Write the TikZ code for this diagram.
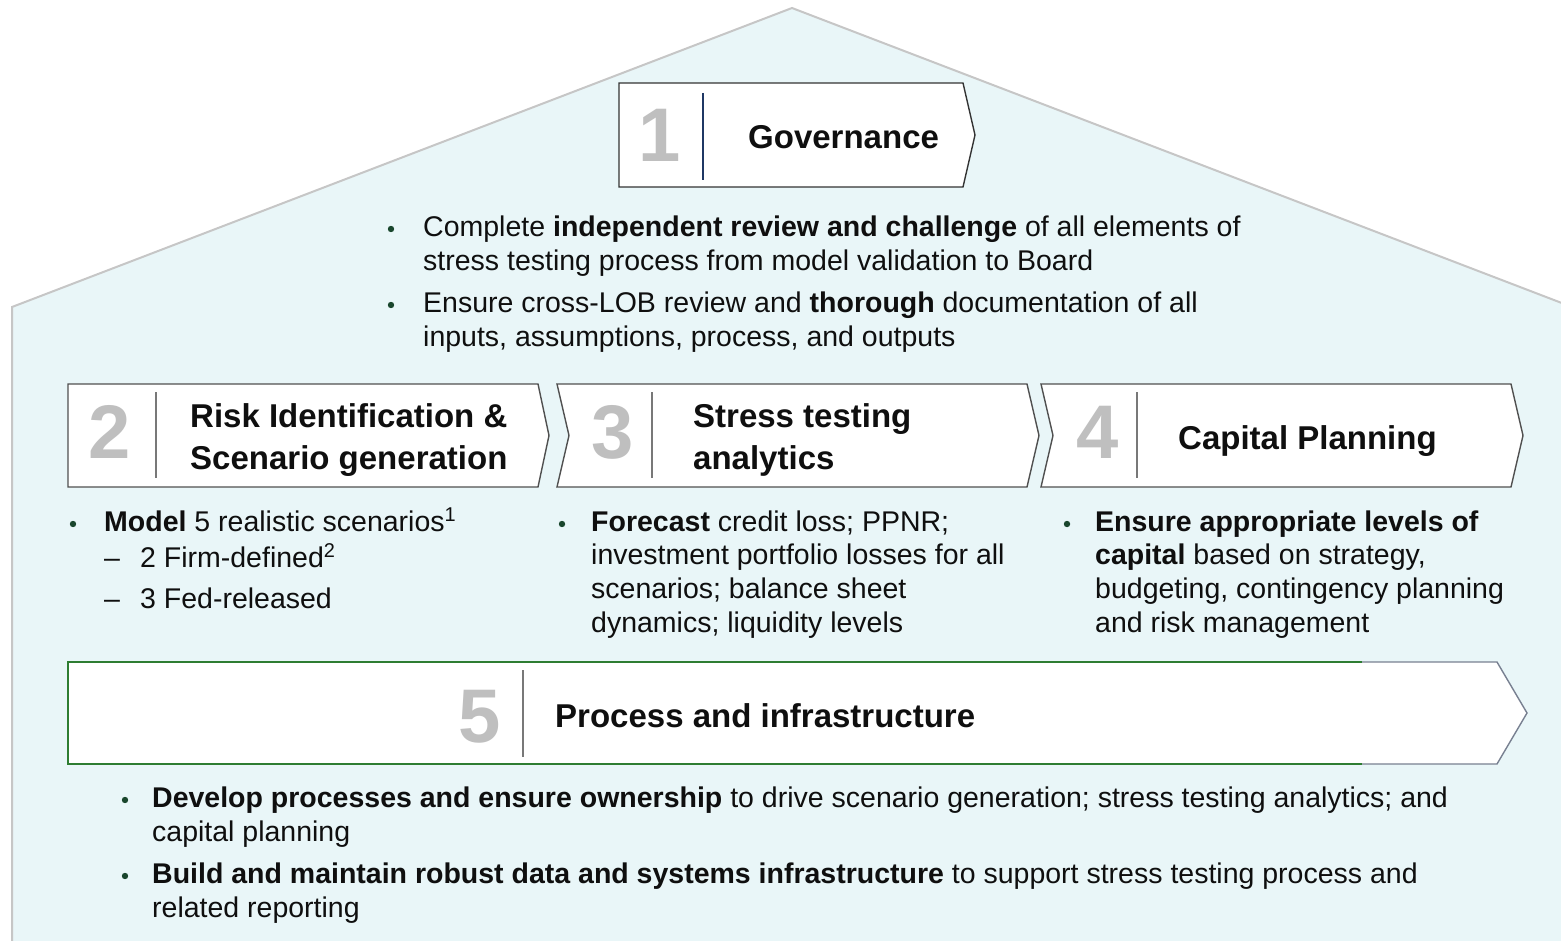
\documentclass[tikz,border=0pt]{standalone}
\usepackage{fontspec}
\setmainfont{Liberation Sans}
\begin{document}
\definecolor{housefill}{RGB}{233,246,248}
\definecolor{houseline}{RGB}{198,198,198}
\definecolor{boxline}{RGB}{80,80,80}
\definecolor{numgray}{RGB}{191,191,191}
\definecolor{divgray}{RGB}{120,120,120}
\definecolor{navy}{RGB}{31,56,100}
\definecolor{dotgreen}{RGB}{25,70,45}
\definecolor{frame5}{RGB}{46,125,50}
\definecolor{frame5b}{RGB}{120,128,145}
\definecolor{ink}{RGB}{15,15,15}
\begin{tikzpicture}[x=1pt,y=-1pt,
  stagebox/.style={fill=white,draw=boxline,line width=1.4pt,line join=miter},
  divider/.style={draw=divgray,line width=1.3pt},
  bignum/.style={anchor=base,inner sep=0,text=numgray,font=\fontsize{76}{76}\selectfont\bfseries},
  title/.style={anchor=base west,inner sep=0,text=ink,font=\fontsize{33}{40}\selectfont\bfseries},
  body/.style={anchor=base west,inner sep=0,text=ink,font=\fontsize{28.5}{34}\selectfont},
  dot/.style={fill=dotgreen}]
\useasboundingbox (0,0) rectangle (1561,941);

% house outline
\begin{scope}
  \clip (0,0) rectangle (1561,941);
  \draw[fill=housefill,draw=houseline,line width=2pt]
    (12,960) -- (12,307) -- (792,8) -- (1580,310) -- (1580,960) -- cycle;
\end{scope}

% stage 1: governance
\draw[stagebox,draw=black!80] (619,83) -- (963,83) -- (975,135) -- (963,187) -- (619,187) -- cycle;
\draw[draw=navy,line width=1.3pt] (703,93) -- (703,180);
\node[bignum] (n1) at (660,162) {1};
\node[title] (t1) at (748,149) {Governance};

\fill[dot] (391,229) circle (3.2);
\node[body] (g1a) at (423,237) {Complete \textbf{independent review and challenge} of all elements of};
\node[body] (g1b) at (423,271) {stress testing process from model validation to Board};
\fill[dot] (391,305) circle (3.2);
\node[body] (g2a) at (423,313) {Ensure cross-LOB review and \textbf{thorough} documentation of all};
\node[body] (g2b) at (423,347) {inputs, assumptions, process, and outputs};

% stage 2
\draw[stagebox] (68,384) -- (538,384) -- (549,435.5) -- (538,487) -- (68,487) -- cycle;
\draw[divider] (156,392) -- (156,478);
\node[bignum] (n2) at (110,458) {2};
\node[title] (t2a) at (190,427) {Risk Identification \&};
\node[title] (t2b) at (190,469) {Scenario generation};

\fill[dot] (73,524) circle (3.2);
\node[body] (s2a) at (104,531) {\textbf{Model} 5 realistic scenarios\textsuperscript{1}};
\node[body] (s2b) at (104,567) {–};
\node[body] (s2c) at (140,567) {2 Firm-defined\textsuperscript{2}};
\node[body] (s2d) at (104,608) {–};
\node[body] (s2e) at (140,608) {3 Fed-released};

% stage 3
\draw[stagebox] (557,384) -- (1027,384) -- (1039,435.5) -- (1027,487) -- (557,487) -- (569,435.5) -- cycle;
\draw[divider] (652,392) -- (652,478);
\node[bignum] (n3) at (613,458) {3};
\node[title] (t3a) at (693,427) {Stress testing};
\node[title] (t3b) at (693,469) {analytics};

\fill[dot] (562,524) circle (3.2);
\node[body] (s3a) at (591,531) {\textbf{Forecast} credit loss; PPNR;};
\node[body] (s3b) at (591,564) {investment portfolio losses for all};
\node[body] (s3c) at (591,598) {scenarios; balance sheet};
\node[body] (s3d) at (591,632) {dynamics; liquidity levels};

% stage 4
\draw[stagebox] (1041,384) -- (1511,384) -- (1523,435.5) -- (1511,487) -- (1041,487) -- (1053,435.5) -- cycle;
\draw[divider] (1137,392) -- (1137,478);
\node[bignum] (n4) at (1098,458) {4};
\node[title] (t4) at (1178,449) {Capital Planning};

\fill[dot] (1067,524) circle (3.2);
\node[body] (s4a) at (1095,531) {\textbf{Ensure appropriate levels of}};
\node[body] (s4b) at (1095,564) {\textbf{capital} based on strategy,};
\node[body] (s4c) at (1095,598) {budgeting, contingency planning};
\node[body] (s4d) at (1095,632) {and risk management};

% stage 5: process and infrastructure
\draw[stagebox,draw=frame5b] (68,662) -- (1497,662) -- (1527,713) -- (1497,764) -- (68,764) -- cycle;
\draw[draw=frame5,line width=1.4pt] (1362,662) -- (68,662) -- (68,764) -- (1362,764);
\draw[divider] (523,670) -- (523,757);
\node[bignum] (n5) at (480,742) {5};
\node[title] (t5) at (555,727) {Process and infrastructure};

\fill[dot] (125,800) circle (3.2);
\node[body] (s5a) at (152,807) {\textbf{Develop processes and ensure ownership} to drive scenario generation; stress testing analytics; and};
\node[body] (s5b) at (152,841) {capital planning};
\fill[dot] (125,876) circle (3.2);
\node[body] (s5c) at (152,883) {\textbf{Build and maintain robust data and systems infrastructure} to support stress testing process and};
\node[body] (s5d) at (152,917) {related reporting};
\end{tikzpicture}
\end{document}
